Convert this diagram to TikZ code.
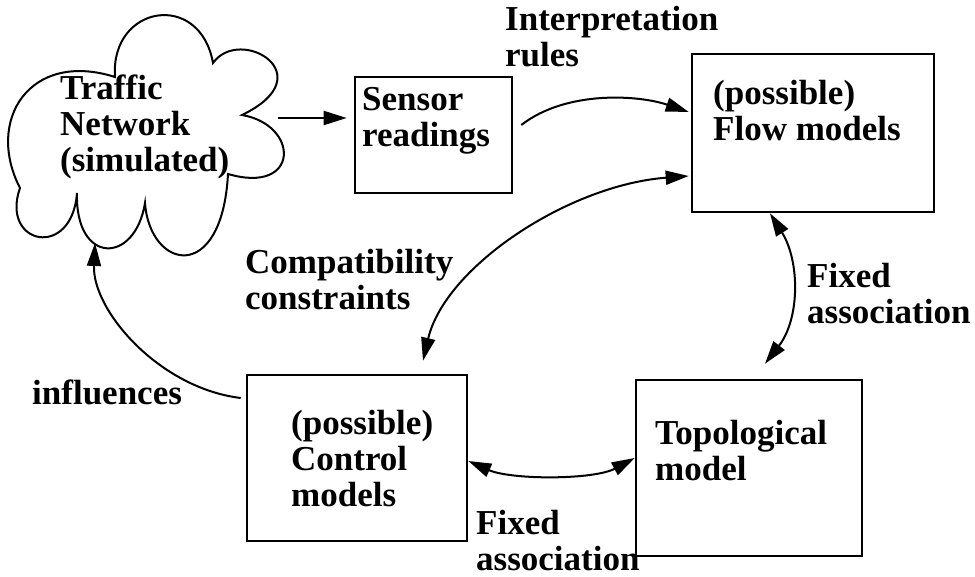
\documentclass[tikz,border=0pt]{standalone}
\usepackage{fontspec}
\setmainfont{Liberation Serif}
\usetikzlibrary{arrows.meta, calc}

\begin{document}
\begin{tikzpicture}[
    x=1pt, y=-1pt,
    font=\fontsize{35}{36}\selectfont\bfseries,
    model/.style = {draw, line width=2.6pt, inner sep=0pt},
    txt/.style   = {anchor=base west, align=left, inner sep=0pt},
    flow/.style  = {-{Triangle[length=23pt,width=14pt]}, line width=2pt},
    assoc/.style = {{Triangle[length=23pt,width=14pt]}-{Triangle[length=23pt,width=14pt]},
                    line width=2pt}
]
\useasboundingbox (0,0) rectangle (975,577);

% Simulated network, drawn as a cloud of lobes
\draw[line width=2pt] (115,77) .. controls (110,5) and (200,-10) .. (213,63)
    .. controls (240,25) and (325,75) .. (242,115)
    .. controls (300,125) and (300,195) .. (228,174)
    .. controls (222,285) and (150,270) .. (145,203)
    .. controls (135,265) and (75,265) .. (77,193)
    .. controls (72,260) and (0,245) .. (20,188)
    .. controls (-15,120) and (30,50) .. (115,77) -- cycle;
\node[txt] (net) at (60,172) {Traffic\\Network\\(simulated)};
\coordinate (cloudR) at (278,118);
\coordinate (cloudB) at (95,243);

% The four boxes
\node[model, minimum width=157pt, minimum height=116pt] (sens) at (433.5,135) {};
\node[model, minimum width=242pt, minimum height=158pt] (flow) at (813,133) {};
\node[model, minimum width=220pt, minimum height=166pt] (ctrl) at (357,458) {};
\node[model, minimum width=226pt, minimum height=176pt] (topo) at (749,468) {};

\node[txt] (senstxt) at (362,147) {Sensor\\readings};
\node[txt] (flowtxt) at (713,141) {(possible)\\Flow models};
\node[txt] (ctrltxt) at (291,506) {(possible)\\Control\\models};
\node[txt] (topotxt) at (655,480) {Topological\\model};

% Labels on the connectors
\node[txt] (interp) at (505,67) {Interpretation\\rules};
\node[txt] (compat) at (245,310) {Compatibility\\constraints};
\node[txt] (infl)   at (32,405)  {influences};
\node[txt] (fixR)   at (807,324) {Fixed\\association};
\node[txt] (fixB)   at (476,570) {Fixed\\association};

% Connectors
\draw[flow, shorten >=7pt] (cloudR) -- (sens.west |- cloudR);
\draw[flow] ([xshift=8pt,yshift=10pt]sens.east)
    .. controls +(45,-35) and +(-50,-17) .. ([xshift=-2pt,yshift=21pt]flow.west);
\draw[assoc] ([xshift=-2pt,yshift=-43pt]flow.west)
    .. controls +(-120,9) and +(22,-94) .. ([xshift=66pt,yshift=13pt]ctrl.north);
\draw[flow] ([xshift=-5pt,yshift=60pt]ctrl.west)
    .. controls +(-82,-10) and +(-3,67) .. (cloudB);
\draw[assoc] ([xshift=-43pt]flow.south)
    .. controls +(30,48) and +(35,-45) .. ([xshift=16pt,yshift=15pt]topo.north);
\draw[assoc] ([yshift=-3pt]ctrl.east)
    .. controls +(43,19) and +(-41,22) .. ([yshift=10pt]topo.west);

\end{tikzpicture}
\end{document}
